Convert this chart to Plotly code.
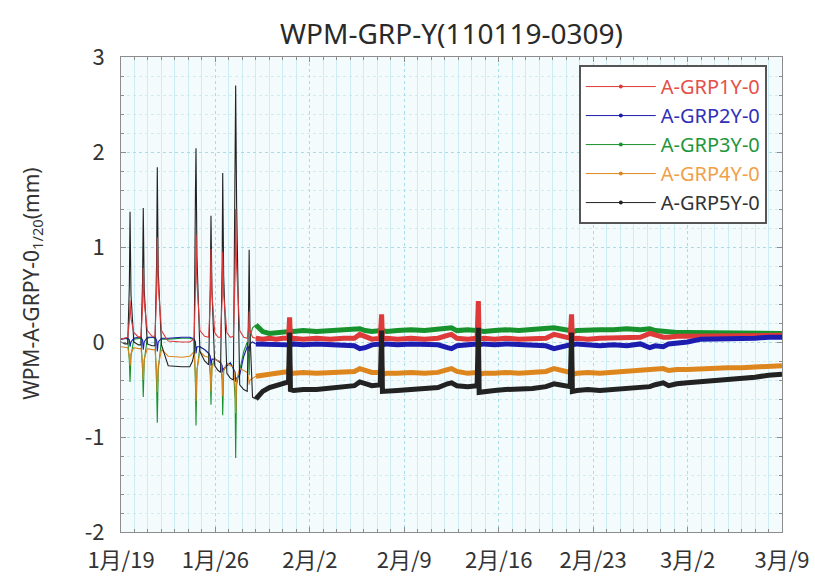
import pandas as pd
import plotly.graph_objects as go

# ---------------- data ----------------
chart_title = "WPM-GRP-Y(110119-0309)"
y_title = "WPM-A-GRPY-0<sub>1/20</sub>(mm)"
series_names = ["A-GRP1Y-0", "A-GRP2Y-0", "A-GRP3Y-0", "A-GRP4Y-0", "A-GRP5Y-0"]
start_date = "2011-01-19"
end_date = "2011-03-09"
y_tick_vals = [-2, -1, 0, 1, 2, 3]
y_tick_text = ["-2", "-1", "0", "1", "2", "3"]

# sample times, in days after 2011-01-19 00:00
day_offsets = [
    0.0, 0.3,
    0.5, 0.62, 0.67, 0.74, 0.95,
    1.3,
    1.48, 1.60, 1.65, 1.72, 1.95,
    2.3,
    2.52, 2.64, 2.69, 2.76, 3.0,
    3.3, 3.5, 4.5, 5.1, 5.3,
    5.42, 5.52, 5.56, 5.63, 5.85,
    6.2,
    6.5, 6.62, 6.67, 6.74, 6.95,
    7.2,
    7.38, 7.50, 7.54, 7.61, 7.85,
    8.1,
    8.33, 8.46, 8.50, 8.57, 8.8,
    9.1,
    9.36, 9.46, 9.50, 9.56, 9.75,
    10.0,
    10.5, 11.0, 11.5, 12.0, 12.42, 12.5, 12.56, 12.8,
    13.5, 14.5, 15.5, 16.5,
    17.3, 17.7, 18.1, 18.6,
    19.22, 19.32, 19.38, 19.7,
    20.5, 21.5, 22.5, 23.5,
    24.2, 24.5, 24.9, 25.7,
    26.4, 26.49, 26.55, 26.9,
    27.7, 28.5, 29.5, 30.5, 31.5,
    32.1, 32.5,
    33.3, 33.4, 33.46, 33.8,
    34.6, 35.5, 36.5, 37.5, 38.5,
    39.2, 39.6, 40.2, 40.6, 41.2,
    42.0, 43.0, 44.0, 45.0, 46.0, 47.0, 48.0, 49.0,
]

grp1 = [  # A-GRP1Y-0 (red)
    0.03, 0.04,
    0.05, 0.22, 0.44, 0.25, 0.10,
    0.05,
    0.06, 0.38, 0.78, 0.42, 0.12,
    0.06,
    0.06, 0.52, 1.10, 0.60, 0.12,
    0.05, 0.01, 0.0, 0.0, 0.02,
    0.05, 0.55, 1.13, 0.62, 0.12,
    0.06,
    0.05, 0.45, 0.98, 0.52, 0.10,
    0.05,
    0.05, 0.46, 0.95, 0.50, 0.10,
    0.05,
    0.06, 0.70, 1.40, 0.78, 0.12,
    0.05,
    0.04, 0.15, 0.32, 0.12, 0.05,
    0.04,
    0.03, 0.04, 0.03, 0.04, 0.04, 0.26, 0.03, 0.04,
    0.03, 0.04, 0.03, 0.04,
    0.04, 0.08, 0.06, 0.03,
    0.04, 0.29, 0.03, 0.04,
    0.03, 0.04, 0.03, 0.04,
    0.07, 0.08, 0.04, 0.03,
    0.04, 0.43, 0.03, 0.04,
    0.03, 0.04, 0.03, 0.04, 0.04,
    0.08, 0.07,
    0.04, 0.29, 0.03, 0.04,
    0.03, 0.04, 0.04, 0.05, 0.05,
    0.09, 0.07, 0.05, 0.05, 0.06,
    0.06, 0.06, 0.07, 0.07, 0.07, 0.07, 0.07, 0.07,
]

grp2 = [  # A-GRP2Y-0 (blue)
    0.03, 0.04,
    0.04, 0.02, -0.05, 0.0, 0.04,
    0.05,
    0.05, 0.02, -0.08, 0.0, 0.05,
    0.05,
    0.05, 0.02, -0.10, 0.0, 0.04,
    0.04, 0.04, 0.05, 0.05, 0.04,
    0.03, 0.0, -0.12, -0.05, -0.05,
    -0.08,
    -0.12, -0.15, -0.25, -0.18, -0.18,
    -0.20,
    -0.22, -0.25, -0.32, -0.28, -0.25,
    -0.22,
    -0.28, -0.32, -0.42, -0.38, -0.35,
    -0.15,
    -0.05, -0.05, -0.10, -0.02, 0.0,
    -0.02,
    -0.02, -0.03, -0.02, -0.03, -0.03, -0.05, -0.03, -0.02,
    -0.03, -0.02, -0.03, -0.03,
    -0.04, -0.07, -0.06, -0.03,
    -0.02, -0.05, -0.03, -0.02,
    -0.03, -0.02, -0.03, -0.03,
    -0.06, -0.07, -0.04, -0.03,
    -0.02, -0.05, -0.03, -0.02,
    -0.03, -0.02, -0.03, -0.03, -0.04,
    -0.07, -0.06,
    -0.03, -0.05, -0.03, -0.02,
    -0.03, -0.04, -0.03, -0.04, -0.02,
    -0.06, -0.04, -0.05, -0.02, -0.01,
    0.0, 0.03, 0.03, 0.04, 0.04, 0.04, 0.05, 0.05,
]

grp3 = [  # A-GRP3Y-0 (green)
    0.03, 0.04,
    0.03, -0.20, -0.42, -0.15, 0.03,
    0.04,
    0.04, -0.30, -0.58, -0.20, 0.04,
    0.05,
    0.04, -0.45, -0.85, -0.30, 0.03,
    0.03, 0.03, 0.04, 0.04, 0.03,
    0.02, -0.45, -0.88, -0.30, -0.05,
    -0.08,
    -0.12, -0.35, -0.66, -0.25, -0.18,
    -0.20,
    -0.22, -0.40, -0.77, -0.30, -0.25,
    -0.22,
    -0.28, -0.60, -1.22, -0.45, -0.30,
    -0.10,
    0.0, -0.15, -0.35, 0.05, 0.15,
    0.18,
    0.11, 0.09, 0.10, 0.11, 0.11, 0.09, 0.12, 0.11,
    0.12, 0.11, 0.12, 0.12,
    0.13, 0.14, 0.12, 0.11,
    0.12, 0.09, 0.12, 0.11,
    0.12, 0.13, 0.12, 0.13,
    0.14, 0.15, 0.12, 0.13,
    0.12, 0.09, 0.12, 0.11,
    0.12, 0.13, 0.12, 0.13, 0.14,
    0.15, 0.14,
    0.12, 0.09, 0.11, 0.12,
    0.13, 0.13, 0.13, 0.14, 0.13,
    0.14, 0.12, 0.11, 0.11, 0.10,
    0.10, 0.10, 0.10, 0.09, 0.09, 0.09, 0.09, 0.09,
]

grp4 = [  # A-GRP4Y-0 (orange)
    -0.05, -0.06,
    -0.06, -0.15, -0.25, -0.12, -0.06,
    -0.07,
    -0.07, -0.22, -0.40, -0.18, -0.07,
    -0.08,
    -0.08, -0.30, -0.53, -0.25, -0.08,
    -0.12, -0.15, -0.16, -0.15, -0.12,
    -0.10, -0.35, -0.62, -0.30, -0.10,
    -0.15,
    -0.16, -0.30, -0.52, -0.28, -0.18,
    -0.20,
    -0.20, -0.35, -0.57, -0.30, -0.22,
    -0.25,
    -0.26, -0.45, -0.75, -0.40, -0.28,
    -0.30,
    -0.32, -0.38, -0.45, -0.40, -0.38,
    -0.36,
    -0.35, -0.33, -0.32, -0.31, -0.31, -0.25, -0.33, -0.33,
    -0.32, -0.33, -0.32, -0.32,
    -0.31, -0.28, -0.30, -0.32,
    -0.32, -0.26, -0.34, -0.33,
    -0.33, -0.32, -0.33, -0.32,
    -0.29, -0.28, -0.31, -0.33,
    -0.32, -0.26, -0.34, -0.33,
    -0.33, -0.32, -0.33, -0.32, -0.31,
    -0.28, -0.29,
    -0.32, -0.26, -0.34, -0.33,
    -0.32, -0.33, -0.32, -0.32, -0.31,
    -0.30, -0.29, -0.28, -0.30, -0.29,
    -0.29, -0.28, -0.28, -0.27, -0.27, -0.26, -0.26, -0.25,
]

grp5 = [  # A-GRP5Y-0 (black)
    0.0, -0.02,
    -0.02, 0.60, 1.37, 0.50, 0.0,
    -0.03,
    -0.03, 0.65, 1.41, 0.55, -0.02,
    -0.04,
    -0.04, 0.85, 1.84, 0.75, -0.03,
    -0.15, -0.25, -0.26, -0.26, -0.20,
    -0.12, 1.58, 2.04, 0.90, -0.10,
    -0.20,
    -0.24, 0.60, 1.33, 0.55, -0.25,
    -0.30,
    -0.32, 0.85, 1.78, 0.70, -0.33,
    -0.38,
    -0.40, 1.97, 2.70, 1.45, -0.45,
    -0.50,
    -0.52, 0.40, 0.97, 0.10, -0.58,
    -0.60,
    -0.52, -0.48, -0.46, -0.44, -0.42, 0.10, -0.50, -0.51,
    -0.50, -0.50, -0.49, -0.48,
    -0.46, -0.42, -0.44, -0.46,
    -0.45, 0.12, -0.52, -0.52,
    -0.51, -0.50, -0.49, -0.48,
    -0.44, -0.43, -0.46, -0.47,
    -0.46, 0.15, -0.53, -0.52,
    -0.51, -0.50, -0.50, -0.49, -0.47,
    -0.44, -0.45,
    -0.47, 0.10, -0.52, -0.51,
    -0.50, -0.51, -0.50, -0.49, -0.48,
    -0.47, -0.45, -0.43, -0.46, -0.44,
    -0.43, -0.42, -0.41, -0.40, -0.38, -0.37, -0.35, -0.34,
]

y_range = [-2, 3]

# ---------------- styling ----------------
line_colors = ["#de3a3a", "#1c1cae", "#18922c", "#de861e", "#222222"]
text_colors = ["#e4504a", "#3030b8", "#22963a", "#f0a048", "#333333"]

values = [grp1, grp2, grp3, grp4, grp5]
times = pd.Timestamp(start_date) + pd.to_timedelta(day_offsets, unit="D")

split_day = 10.0
early = [i for i, d in enumerate(day_offsets) if d <= split_day]
late = [i for i, d in enumerate(day_offsets) if d >= split_day]

fig = go.Figure()


def add_part(idx_list, k, width):
    fig.add_trace(go.Scatter(
        x=[times[i] for i in idx_list],
        y=[values[k][i] for i in idx_list],
        mode="lines",
        line=dict(color=line_colors[k], width=width),
        showlegend=False,
        hoverinfo="skip",
    ))


# early (spiky) part: red drawn on top so it shows under the taller black spikes
for k in [2, 1, 3, 4, 0]:
    add_part(early, k, 1.1)
# later (flat, noisy) part
for k in [2, 0, 1, 3, 4]:
    add_part(late, k, 5)

# legend entries
for k, name in enumerate(series_names):
    fig.add_trace(go.Scatter(
        x=[None], y=[None],
        mode="lines+markers",
        line=dict(color=line_colors[k], width=1),
        marker=dict(color=line_colors[k], size=4),
        name=f'<span style="color:{text_colors[k]}">{name}</span>',
    ))

grid_major = "#a9dce9"
grid_minor = "#cdecf3"
frame = "#8c8c8c"

fig.update_layout(
    width=815, height=577,
    margin=dict(l=121, r=33, t=57, b=45),
    paper_bgcolor="white",
    plot_bgcolor="#f3fbfd",
    title=dict(text=chart_title, x=0.554, xanchor="center", y=0.94, yanchor="middle",
               font=dict(family="Noto Sans", size=28, color="#2a2a2a")),
    showlegend=True,
    legend=dict(
        x=0.977, y=0.983, xanchor="right", yanchor="top",
        bgcolor="white", bordercolor="#555555", borderwidth=2,
        font=dict(family="Noto Sans", size=20, color="#333333"),
        itemwidth=70, traceorder="normal",
    ),
    annotations=[dict(
        text=y_title, textangle=-90, xref="paper", yref="paper",
        x=-0.135, y=0.524, xanchor="center", yanchor="middle", showarrow=False,
        font=dict(family="Noto Sans", size=21, color="#333333"),
    )],
)

fig.update_xaxes(
    type="date", range=[start_date, end_date], automargin=False,
    tick0=start_date, dtick=7 * 86400000, tickformat="%-m月/%-d",
    tickfont=dict(family="Noto Sans CJK JP", size=22, color="#333333"),
    ticks="inside", ticklen=5, tickcolor=frame, ticklabelstandoff=9,
    showline=True, linecolor=frame, linewidth=1, mirror="allticks",
    showgrid=True, gridcolor=grid_major, griddash="dot", gridwidth=1,
    minor=dict(dtick=86400000, showgrid=True, gridcolor=grid_minor, griddash="solid",
               ticks="inside", ticklen=3, tickcolor=frame),
    zeroline=False,
)
fig.update_yaxes(
    range=y_range, automargin=False,
    tickmode="array", tickvals=y_tick_vals, ticktext=y_tick_text,
    tickfont=dict(family="Noto Sans CJK JP", size=22, color="#333333"),
    ticks="inside", ticklen=5, tickcolor=frame, ticklabelstandoff=11,
    showline=True, linecolor=frame, linewidth=1, mirror="allticks",
    showgrid=True, gridcolor=grid_major, griddash="dot", gridwidth=1,
    minor=dict(dtick=0.2, tick0=0, showgrid=True, gridcolor=grid_minor, griddash="dot",
               ticks="inside", ticklen=3, tickcolor=frame),
    zeroline=False,
)

fig.write_html("out.html", config={"displayModeBar": False},
               post_script="document.body.style.margin='0';")
